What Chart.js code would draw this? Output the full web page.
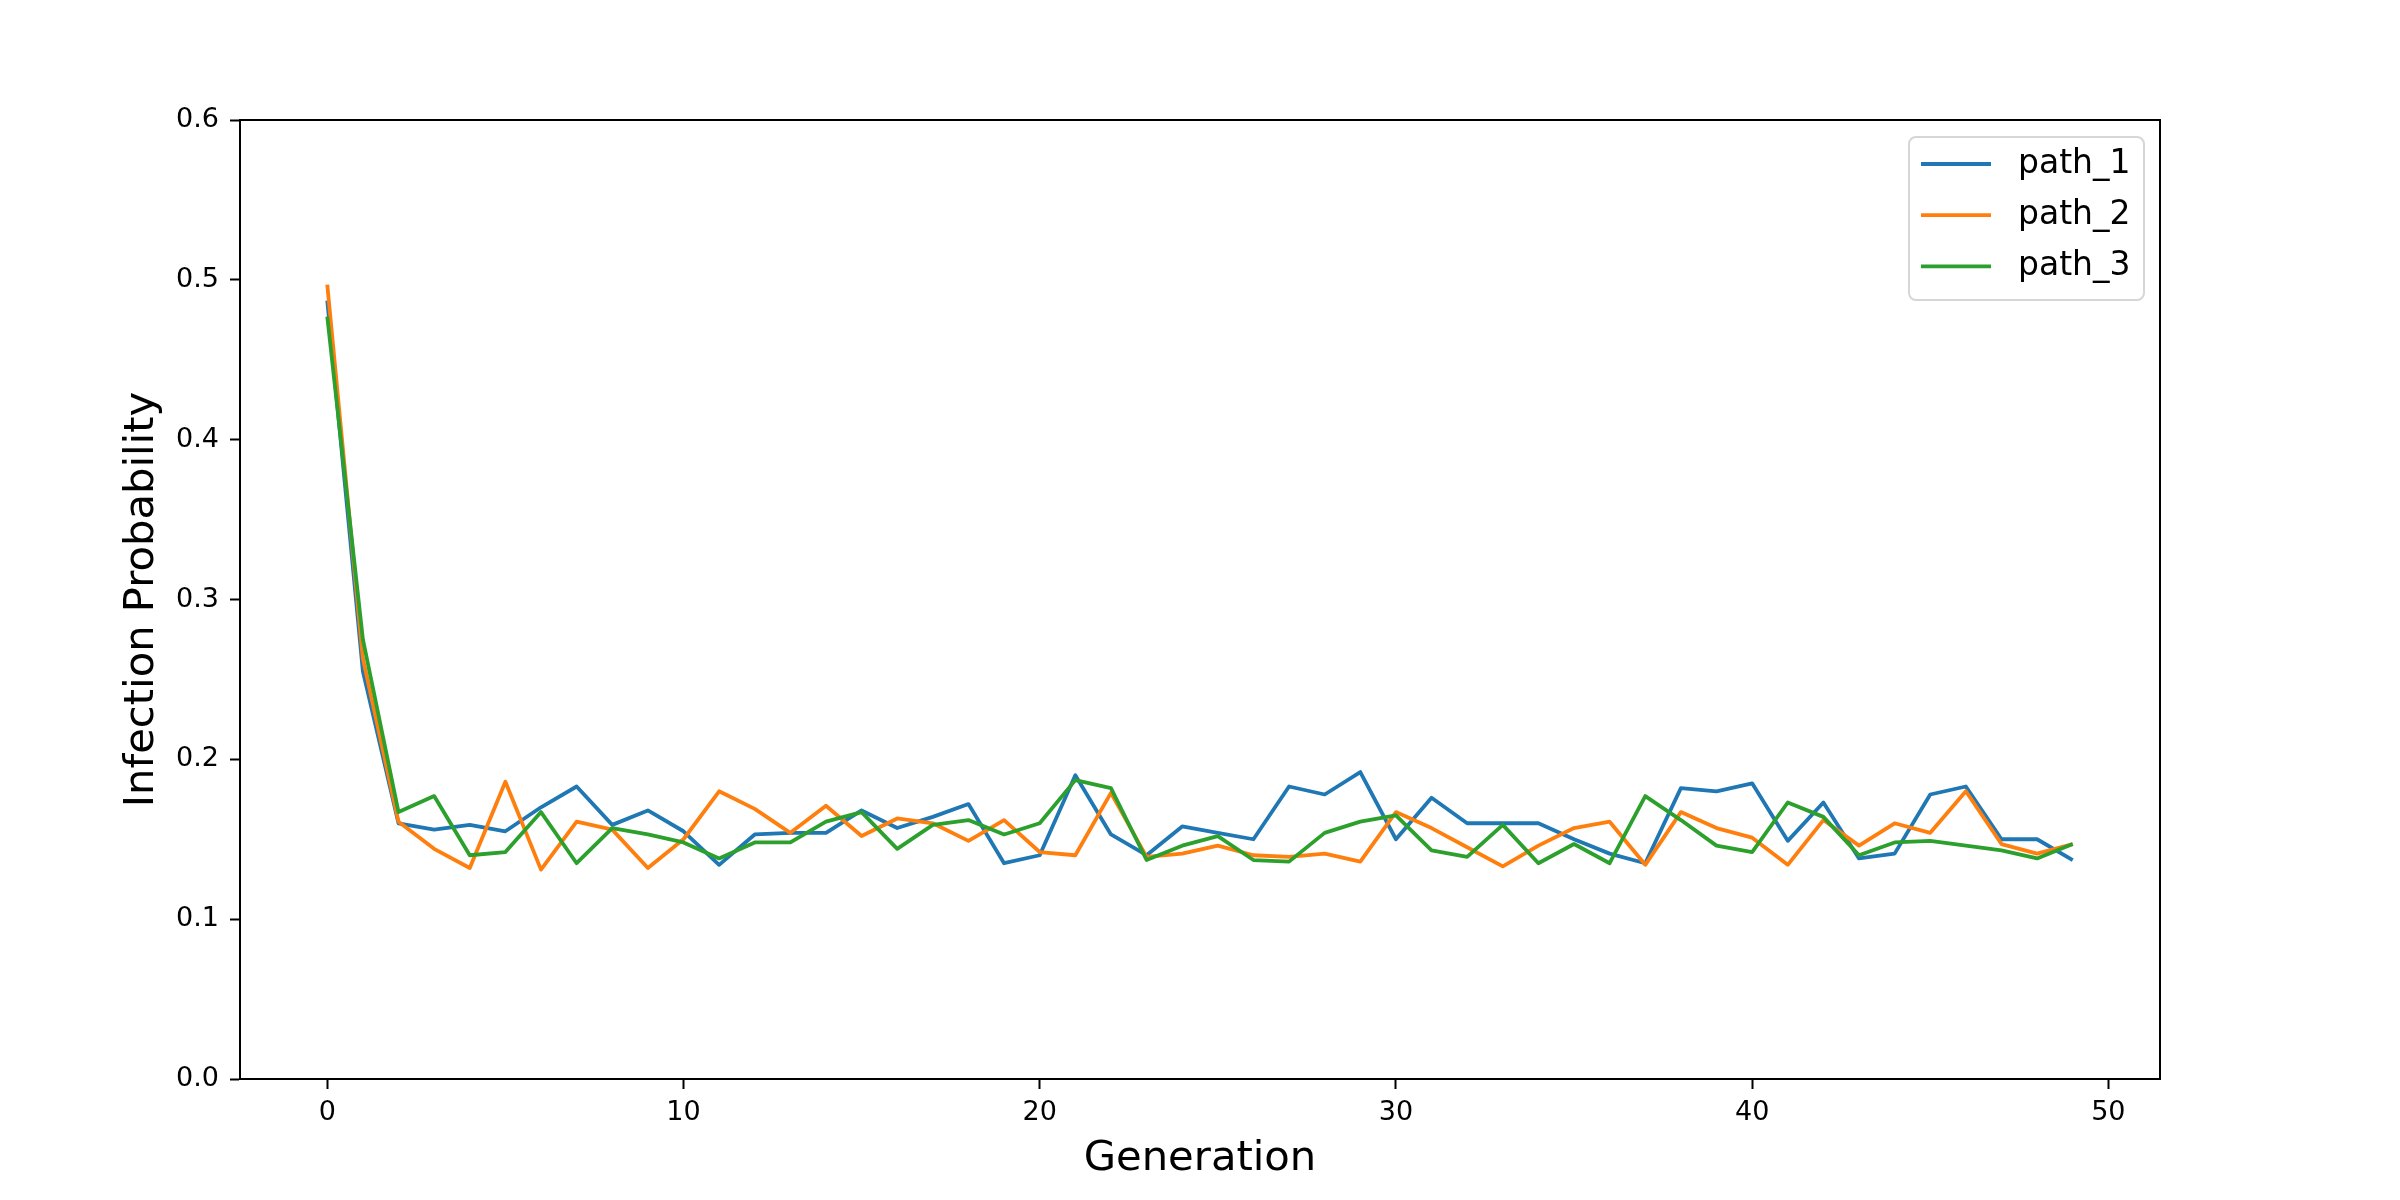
<!DOCTYPE html>
<html>
<head>
<meta charset="utf-8">
<script src="https://cdn.jsdelivr.net/npm/chart.js@4/dist/chart.umd.min.js"></script>
<style>
  html, body { margin: 0; padding: 0; background: #ffffff; }
  #wrap { width: 2400px; height: 1200px; }
</style>
</head>
<body>
<div id="wrap"><canvas id="infection_graph" width="2400" height="1200"></canvas></div>
<script>
//////////// data ////////////
var generations = [];
for (var g = 0; g < 50; g++) generations.push(g);

var path1 = [0.487, 0.255, 0.160, 0.156, 0.159, 0.155, 0.170, 0.183, 0.159, 0.168,
             0.155, 0.134, 0.153, 0.154, 0.154, 0.168, 0.157, 0.164, 0.172, 0.135,
             0.140, 0.190, 0.153, 0.140, 0.158, 0.154, 0.150, 0.183, 0.178, 0.192,
             0.150, 0.176, 0.160, 0.160, 0.160, 0.150, 0.141, 0.135, 0.182, 0.180,
             0.185, 0.149, 0.173, 0.138, 0.141, 0.178, 0.183, 0.150, 0.150, 0.137];

var path2 = [0.497, 0.263, 0.161, 0.144, 0.132, 0.186, 0.131, 0.161, 0.156, 0.132,
             0.150, 0.180, 0.169, 0.154, 0.171, 0.152, 0.163, 0.160, 0.149, 0.162,
             0.142, 0.140, 0.179, 0.139, 0.141, 0.146, 0.140, 0.139, 0.141, 0.136,
             0.167, 0.157, 0.145, 0.133, 0.146, 0.157, 0.161, 0.134, 0.167, 0.157,
             0.151, 0.134, 0.162, 0.146, 0.160, 0.154, 0.180, 0.147, 0.141, 0.147];

var path3 = [0.477, 0.275, 0.167, 0.177, 0.140, 0.142, 0.167, 0.135, 0.157, 0.153,
             0.148, 0.138, 0.148, 0.148, 0.161, 0.167, 0.144, 0.159, 0.162, 0.153,
             0.160, 0.187, 0.182, 0.137, 0.146, 0.152, 0.137, 0.136, 0.154, 0.161,
             0.165, 0.143, 0.139, 0.159, 0.135, 0.147, 0.135, 0.177, 0.162, 0.146,
             0.142, 0.173, 0.164, 0.140, 0.148, 0.149, 0.146, 0.143, 0.138, 0.147];

var seriesNames = ["path_1", "path_2", "path_3"];
var seriesValues = [path1, path2, path3];
var seriesColors = ["#1f77b4", "#ff7f0e", "#2ca02c"];

var xTicks = [0, 10, 20, 30, 40, 50];
var yTicks = [0.0, 0.1, 0.2, 0.3, 0.4, 0.5, 0.6];

var FONT = "'DejaVu Sans', sans-serif";

//////////// datasets ////////////
var datasets = [];
for (var s = 0; s < seriesNames.length; s++) {
    var pts = [];
    for (var i = 0; i < generations.length; i++) {
        pts.push({ x: generations[i], y: seriesValues[s][i] });
    }
    datasets.push({
        label: seriesNames[s],
        data: pts,
        borderColor: seriesColors[s],
        backgroundColor: seriesColors[s],
        borderWidth: 3.8,
        pointRadius: 0,
        tension: 0,
        fill: false,
        borderJoinStyle: 'round',
        borderCapStyle: 'butt',
        order: seriesNames.length - s   // later series on top, like matplotlib
    });
}

//////////// top/right spines + legend box ////////////
var framePlugin = {
    id: 'frame',
    afterDatasetsDraw: function (chart) {
        var ctx = chart.ctx;
        var a = chart.chartArea;
        ctx.save();
        ctx.strokeStyle = '#000';
        ctx.lineWidth = 2;
        ctx.strokeRect(a.left, a.top, a.right - a.left, a.bottom - a.top);

        // legend, upper right inside the axes
        var boxR = a.right - 16, boxT = a.top + 17;
        var boxW = 235, boxH = 163, r = 7;
        var boxL = boxR - boxW;
        ctx.beginPath();
        ctx.moveTo(boxL + r, boxT);
        ctx.arcTo(boxR, boxT, boxR, boxT + boxH, r);
        ctx.arcTo(boxR, boxT + boxH, boxL, boxT + boxH, r);
        ctx.arcTo(boxL, boxT + boxH, boxL, boxT, r);
        ctx.arcTo(boxL, boxT, boxR, boxT, r);
        ctx.closePath();
        ctx.fillStyle = 'rgba(255,255,255,0.8)';
        ctx.fill();
        ctx.strokeStyle = '#d6d6d6';
        ctx.lineWidth = 2;
        ctx.stroke();

        ctx.font = '33px ' + FONT;
        ctx.textBaseline = 'middle';
        ctx.textAlign = 'left';
        for (var k = 0; k < chart.data.datasets.length; k++) {
            var ds = chart.data.datasets[k];
            var yy = boxT + 27 + k * 51.2;
            ctx.beginPath();
            ctx.moveTo(boxL + 12, yy);
            ctx.lineTo(boxL + 82, yy);
            ctx.strokeStyle = ds.borderColor;
            ctx.lineWidth = ds.borderWidth;
            ctx.stroke();
            ctx.fillStyle = '#000';
            ctx.fillText(ds.label, boxL + 109, yy);
        }
        ctx.restore();
    }
};

var chart = new Chart(document.getElementById('infection_graph'), {
    type: 'line',
    data: { datasets: datasets },
    plugins: [framePlugin],
    options: {
        responsive: false,
        animation: false,
        devicePixelRatio: 1,
        layout: { padding: { left: 0, right: 240, top: 120, bottom: 0 } },
        plugins: { legend: { display: false }, tooltip: { enabled: false } },
        scales: {
            x: {
                type: 'linear',
                min: -2.45,
                max: 51.45,
                afterFit: function (scale) { scale.height = 121; },
                afterBuildTicks: function (scale) {
                    scale.ticks = xTicks.map(function (v) { return { value: v }; });
                },
                ticks: {
                    font: { family: FONT, size: 27 },
                    color: '#000',
                    padding: 8,
                    maxRotation: 0,
                    autoSkip: false,
                    callback: function (v) { return String(v); }
                },
                grid: { drawOnChartArea: false, drawTicks: true, tickLength: 10, tickWidth: 2, tickColor: '#000' },
                border: { display: true, color: '#000', width: 2 },
                title: {
                    display: true,
                    text: 'Generation',
                    color: '#000',
                    font: { family: FONT, size: 41.7, lineHeight: 1 },
                    padding: { top: 0, bottom: 20 }
                }
            },
            y: {
                type: 'linear',
                min: 0,
                max: 0.6,
                afterFit: function (scale) { scale.width = 240; },
                afterBuildTicks: function (scale) {
                    scale.ticks = yTicks.map(function (v) { return { value: v }; });
                },
                ticks: {
                    font: { family: FONT, size: 27 },
                    color: '#000',
                    padding: 11,
                    autoSkip: false,
                    callback: function (v) { return Number(v).toFixed(1); }
                },
                grid: { drawOnChartArea: false, drawTicks: true, tickLength: 10, tickWidth: 2, tickColor: '#000' },
                border: { display: true, color: '#000', width: 2 },
                title: {
                    display: true,
                    text: 'Infection Probability',
                    color: '#000',
                    font: { family: FONT, size: 41.7, lineHeight: 1 },
                    padding: { top: 121, bottom: 0 }
                }
            }
        }
    }
});
</script>
</body>
</html>
